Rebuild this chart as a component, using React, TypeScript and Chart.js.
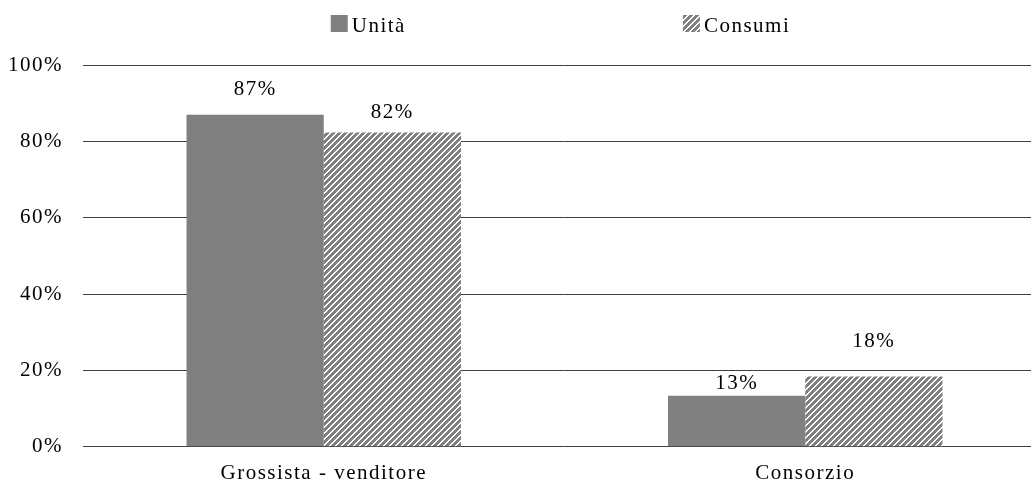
import React, { useEffect, useRef } from 'react';
import { Chart, registerables } from 'chart.js';

Chart.register(...registerables);

const categories = ['Grossista - venditore', 'Consorzio'];
const seriesNames = ['Unità', 'Consumi'];
const unita = [87, 13.4];
const consumi = [82.3, 18.4];
const yMin = 0;
const yMax = 100;
const yStep = 20;

const FONT = '"Liberation Serif", "Times New Roman", serif';
const FONT_SIZE = 21;
const GREY = '#808080';
const SPACING = '1.5px';

function makeHatch(): CanvasPattern | string {
  const size = 6;
  const c = document.createElement('canvas');
  c.width = size;
  c.height = size;
  const g = c.getContext('2d');
  if (!g) return GREY;
  const img = g.createImageData(size, size);
  for (let y = 0; y < size; y++) {
    for (let x = 0; x < size; x++) {
      const k = (x + y) % size;
      const v = k < 2 ? 255 : 128;
      const i = (y * size + x) * 4;
      img.data[i] = v;
      img.data[i + 1] = v;
      img.data[i + 2] = v;
      img.data[i + 3] = 255;
    }
  }
  g.putImageData(img, 0, 0);
  return g.createPattern(c, 'repeat') || GREY;
}

const spacingPlugin = {
  id: 'letterSpacing',
  beforeUpdate(chart: any) {
    chart.ctx.letterSpacing = SPACING;
  },
  beforeDraw(chart: any) {
    chart.ctx.letterSpacing = SPACING;
  },
};

const legendPlugin = {
  id: 'customLegend',
  afterDraw(chart: any) {
    const ctx = chart.ctx as CanvasRenderingContext2D;
    const area = chart.chartArea;
    const box = 17;
    const gap = 4;
    const itemGap = 277;
    const top = 15;
    const shift = -4;
    ctx.save();
    (ctx as any).letterSpacing = SPACING;
    ctx.font = `${FONT_SIZE}px ${FONT}`;
    ctx.textBaseline = 'alphabetic';
    ctx.textAlign = 'left';
    const items = chart.data.datasets.map((ds: any) => ({
      label: ds.label as string,
      color: ds.backgroundColor,
      w: box + gap + ctx.measureText(ds.label).width,
    }));
    const total = items.reduce((s: number, it: any) => s + it.w, 0) + itemGap * (items.length - 1);
    let x = (area.left + area.right) / 2 - total / 2 + shift;
    items.forEach((it: any) => {
      ctx.fillStyle = it.color;
      ctx.fillRect(x, top, box, box);
      ctx.fillStyle = '#000';
      ctx.fillText(it.label, x + box + gap, top + box);
      x += it.w + itemGap;
    });
    ctx.restore();
  },
};

const labelLift = [
  [25, 12.5],
  [20.5, 35],
];

const dataLabelPlugin = {
  id: 'dataLabels',
  afterDatasetsDraw(chart: any) {
    const ctx = chart.ctx as CanvasRenderingContext2D;
    ctx.save();
    (ctx as any).letterSpacing = SPACING;
    ctx.font = `${FONT_SIZE}px ${FONT}`;
    ctx.fillStyle = '#000';
    ctx.textAlign = 'center';
    ctx.textBaseline = 'middle';
    chart.data.datasets.forEach((ds: any, di: number) => {
      const meta = chart.getDatasetMeta(di);
      meta.data.forEach((el: any, i: number) => {
        const v = ds.data[i] as number;
        ctx.fillText(`${Math.round(v)}%`, el.x, el.y - labelLift[di][i]);
      });
    });
    ctx.restore();
  },
};

export default function App() {
  const ref = useRef<HTMLCanvasElement | null>(null);

  useEffect(() => {
    document.body.style.margin = '0';
    const canvas = ref.current;
    if (!canvas) return;
    const hatch = makeHatch();
    const chart = new Chart(canvas, {
      type: 'bar',
      data: {
        labels: categories,
        datasets: [
          {
            label: seriesNames[0],
            data: unita,
            backgroundColor: GREY,
            borderWidth: 0,
            categoryPercentage: 0.57,
            barPercentage: 1.0,
          },
          {
            label: seriesNames[1],
            data: consumi,
            backgroundColor: hatch as any,
            borderWidth: 0,
            categoryPercentage: 0.57,
            barPercentage: 1.0,
          },
        ],
      },
      options: {
        responsive: false,
        animation: false,
        devicePixelRatio: 1,
        layout: { padding: { top: 65, right: 0, left: 0, bottom: 0 } },
        plugins: {
          legend: { display: false },
          tooltip: { enabled: false },
        },
        scales: {
          x: {
            grid: { display: false },
            border: { display: false },
            ticks: {
              font: { family: FONT, size: FONT_SIZE },
              color: '#000',
              padding: 6,
            },
          },
          y: {
            min: yMin,
            max: yMax,
            grid: { color: '#404040', lineWidth: 1, drawTicks: false },
            border: { display: false },
            ticks: {
              stepSize: yStep,
              font: { family: FONT, size: FONT_SIZE },
              color: '#000',
              padding: 20,
              callback: (v: any) => `${v}%`,
            },
            afterFit: (scale: any) => {
              scale.width = 83;
            },
          },
        },
      },
      plugins: [spacingPlugin, dataLabelPlugin, legendPlugin],
    });
    return () => chart.destroy();
  }, []);

  return (
    <div style={{ width: 1031, height: 482, overflow: 'hidden', position: 'relative' }}>
      <canvas ref={ref} width={1046} height={492} style={{ display: 'block' }} />
    </div>
  );
}
